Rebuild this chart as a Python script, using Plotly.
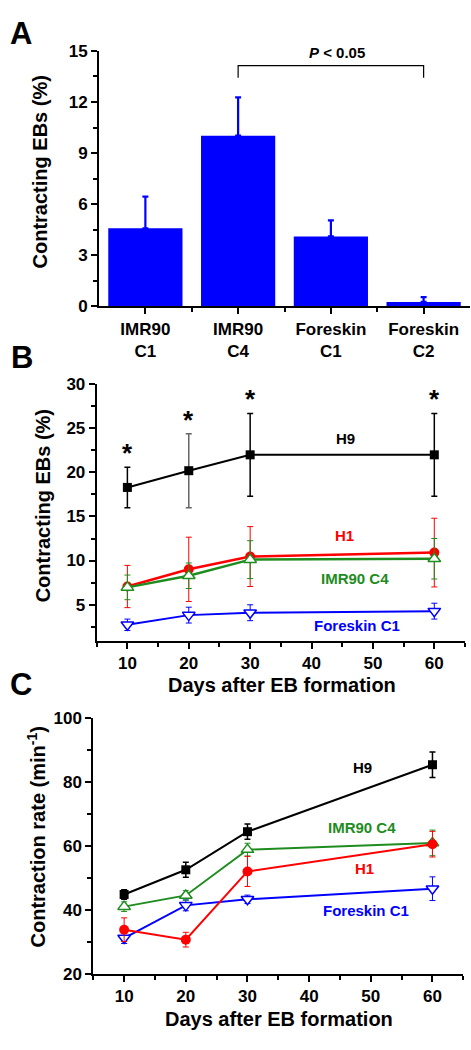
import plotly.graph_objects as go

# ---------------- Data ----------------
# Panel A
a_categories = ["IMR90<br>C1", "IMR90<br>C4", "Foreskin<br>C1", "Foreskin<br>C2"]
a_values = [4.58, 10.02, 4.10, 0.25]
a_errors = [1.86, 2.25, 0.94, 0.29]

# Panel B (Contracting EBs %)
days = [10, 20, 30, 60]
b_h9 = [18.3, 20.2, 22.0, 22.0]
b_h9_err = [2.3, 4.2, 4.7, 4.7]
b_h1 = [7.05, 9.0, 10.45, 10.9]
b_h1_err = [2.4, 3.65, 3.4, 3.9]
b_imr = [6.95, 8.27, 10.1, 10.2]
b_imr_err = [1.4, 1.45, 2.15, 2.3]
b_fsk = [2.7, 3.8, 4.07, 4.25]
b_fsk_err = [0.65, 0.9, 0.9, 0.9]

# Panel C (Contraction rate)
c_h9 = [44.8, 52.5, 64.4, 85.3]
c_h9_err = [1.5, 2.35, 2.4, 4.0]
c_h1 = [33.8, 30.7, 52.0, 60.5]
c_h1_err = [3.7, 2.3, 4.7, 4.0]
c_imr = [41.0, 44.5, 58.8, 60.9]
c_imr_err = [1.5, 1.5, 2.0, 4.0]
c_fsk = [31.2, 41.4, 43.3, 46.6]
c_fsk_err = [1.7, 1.7, 1.3, 3.7]

BLACK = "#000000"
RED = "#FF0000"
GREEN = "#1E8C1E"
BLUE = "#0000FF"
FONT = "Liberation Sans"

W, H = 471, 1050


def px(x):
    return x / W


def py(y):
    return 1 - y / H


fig = go.Figure()

# ---------------- Panel A ----------------
fig.add_trace(go.Bar(
    x=list(range(len(a_categories))), y=a_values, width=0.8,
    marker=dict(color=BLUE, line=dict(width=0)),
    error_y=dict(type="data", array=a_errors, arrayminus=[0] * len(a_errors),
                 symmetric=False, color=BLUE, thickness=2.2, width=3),
    xaxis="x", yaxis="y", showlegend=False))

# ---------------- Panel B ----------------
def series(xs, ys, errs, color, symbol, size, xa, ya, fill, lw=2, ew=1, ecol=None, mlw=1.5):
    return go.Scatter(
        x=xs, y=ys, mode="lines+markers",
        line=dict(color=color, width=lw),
        marker=dict(symbol=symbol, size=size, color=fill,
                    line=dict(color=color, width=mlw)),
        error_y=dict(type="data", array=errs, color=ecol or color,
                     thickness=ew, width=3),
        xaxis=xa, yaxis=ya, showlegend=False, cliponaxis=False)

# gray error bar of H9 at day 20
gray_idx = [i for i, d in enumerate(days) if d == 20]
fig.add_trace(go.Scatter(
    x=[days[i] for i in gray_idx], y=[b_h9[i] for i in gray_idx], mode="markers",
    marker=dict(size=1, color="rgba(0,0,0,0)"),
    error_y=dict(type="data", array=[b_h9_err[i] for i in gray_idx], color="#666666",
                 thickness=1.5, width=3),
    xaxis="x2", yaxis="y2", showlegend=False))
b_h9_err_main = [0 if d == 20 else e for d, e in zip(days, b_h9_err)]
fig.add_trace(series(days, b_h9, b_h9_err_main, BLACK, "square", 9, "x2", "y2", BLACK, ew=1.5, mlw=0))
fig.add_trace(series(days, b_fsk, b_fsk_err, BLUE, "triangle-down", 11, "x2", "y2", "white"))
fig.add_trace(series(days, b_h1, b_h1_err, RED, "circle", 10, "x2", "y2", RED, lw=2.5, mlw=0))
fig.add_trace(series(days, b_imr, b_imr_err, GREEN, "triangle-up", 11, "x2", "y2", "white", lw=2.5))

# ---------------- Panel C ----------------
fig.add_trace(series(days, c_h9, c_h9_err, BLACK, "square", 9, "x3", "y3", BLACK, ew=1.5, mlw=0))
fig.add_trace(series(days, c_fsk, c_fsk_err, BLUE, "triangle-down", 11, "x3", "y3", "white"))
fig.add_trace(series(days, c_imr, c_imr_err, GREEN, "triangle-up", 11, "x3", "y3", "white"))
fig.add_trace(series(days, c_h1, c_h1_err, RED, "circle", 10, "x3", "y3", RED, mlw=0))

# ---------------- Axes ----------------
tickfont = dict(family=FONT, size=17, color="black", weight="bold")
common = dict(showline=True, linewidth=2, linecolor="black", showgrid=False,
              zeroline=False, ticks="outside", ticklen=6, tickwidth=1.5,
              tickcolor="black", tickfont=tickfont)

fig.update_layout(
    width=W, height=H, margin=dict(l=0, r=0, t=0, b=0),
    plot_bgcolor="white", paper_bgcolor="white",
    font=dict(family=FONT, color="black"),
    xaxis=dict(domain=[px(99), px(470)], anchor="y", range=[-0.5, 3.5],
               tickmode="array", tickvals=list(range(len(a_categories))),
               ticktext=["<b>%s</b>" % c for c in a_categories],
               minor=dict(tickmode="array", tickvals=[0.5, 1.5, 2.5], ticks="outside",
                          ticklen=4, tickwidth=1.5, tickcolor="black"),
               **common),
    yaxis=dict(domain=[py(302.7), py(42.7)], anchor="x", range=[0, 15],
               tick0=0, dtick=3,
               minor=dict(dtick=1.5, ticks="outside", ticklen=4, tickwidth=1.5, tickcolor="black"),
               **common),
    xaxis2=dict(domain=[px(96.7), px(465)], anchor="y2", range=[5, 65],
                tick0=0, dtick=10,
                minor=dict(dtick=5, ticks="outside", ticklen=4, tickwidth=1.5, tickcolor="black"),
                **common),
    yaxis2=dict(domain=[py(643.3), py(382.3)], anchor="x2", range=[0.9, 30],
                tick0=0, dtick=5,
                minor=dict(dtick=2.5, ticks="outside", ticklen=4, tickwidth=1.5, tickcolor="black"),
                **common),
    xaxis3=dict(domain=[px(93.3), px(463.3)], anchor="y3", range=[5, 65],
                tick0=0, dtick=10,
                minor=dict(dtick=5, ticks="outside", ticklen=4, tickwidth=1.5, tickcolor="black"),
                **common),
    yaxis3=dict(domain=[py(982.7), py(721.7)], anchor="x3", range=[20, 100],
                tick0=0, dtick=20,
                minor=dict(dtick=10, ticks="outside", ticklen=4, tickwidth=1.5, tickcolor="black"),
                **common),
)

# ---------------- Annotations ----------------
ann = []


def label(text, x, y, size, color="black", angle=0, xref="paper", yref="paper", **kw):
    ann.append(dict(text=text, x=x, y=y, xref=xref, yref=yref, showarrow=False,
                    textangle=angle, font=dict(family=FONT, size=size, color=color, weight="bold"),
                    xanchor=kw.pop("xanchor", "center"), yanchor=kw.pop("yanchor", "middle"), **kw))

# panel letters
label("A", px(21), py(25), 31)
label("B", px(21.5), py(355), 31)
label("C", px(21), py(688), 31)

# axis titles
label("Contracting EBs (%)", px(40), py(166.5), 20, angle=-90)
label("Contracting EBs (%)", px(43), py(506.5), 20, angle=-90)
label("Contraction rate (min<sup>-1</sup>)", px(36.7), py(843), 20, angle=-90)
label("Days after EB formation", px(281.7), py(688.3), 20)
label("Days after EB formation", px(279), py(1028.3), 20)

# significance bracket (panel A)
bracket_y, bracket_drop = 14.14, 13.42
fig.add_shape(type="path", xref="x", yref="y",
              path=f"M 1 {bracket_drop} L 1 {bracket_y} L 3 {bracket_y} L 3 {bracket_drop}",
              line=dict(color="black", width=1.2))
label("<i>P</i> < 0.05", 2.07, 14.9, 15, xref="x", yref="y")

# stars (panel B)
for d, m, e in zip(days, b_h9, b_h9_err):
    label("*", d, m + e, 26, xref="x2", yref="y2", yanchor="bottom", yshift=-3)

# series labels panel B
label("H9", 45.5, 23.8, 15, BLACK, xref="x2", yref="y2")
label("H1", 45.4, 12.8, 15, RED, xref="x2", yref="y2")
label("IMR90 C4", 47.0, 7.97, 15, GREEN, xref="x2", yref="y2")
label("Foreskin C1", 47.4, 2.59, 15, BLUE, xref="x2", yref="y2")

# series labels panel C
label("H9", 48.6, 84.5, 15, BLACK, xref="x3", yref="y3")
label("IMR90 C4", 48.6, 65.6, 15, GREEN, xref="x3", yref="y3")
label("H1", 49.0, 52.8, 15, RED, xref="x3", yref="y3")
label("Foreskin C1", 49.2, 39.7, 15, BLUE, xref="x3", yref="y3")

fig.update_layout(annotations=ann)

fig.write_html(
    "out.html",
    config={"displayModeBar": False},
    post_script="document.body.style.margin='0px';document.body.style.overflow='hidden';",
)
